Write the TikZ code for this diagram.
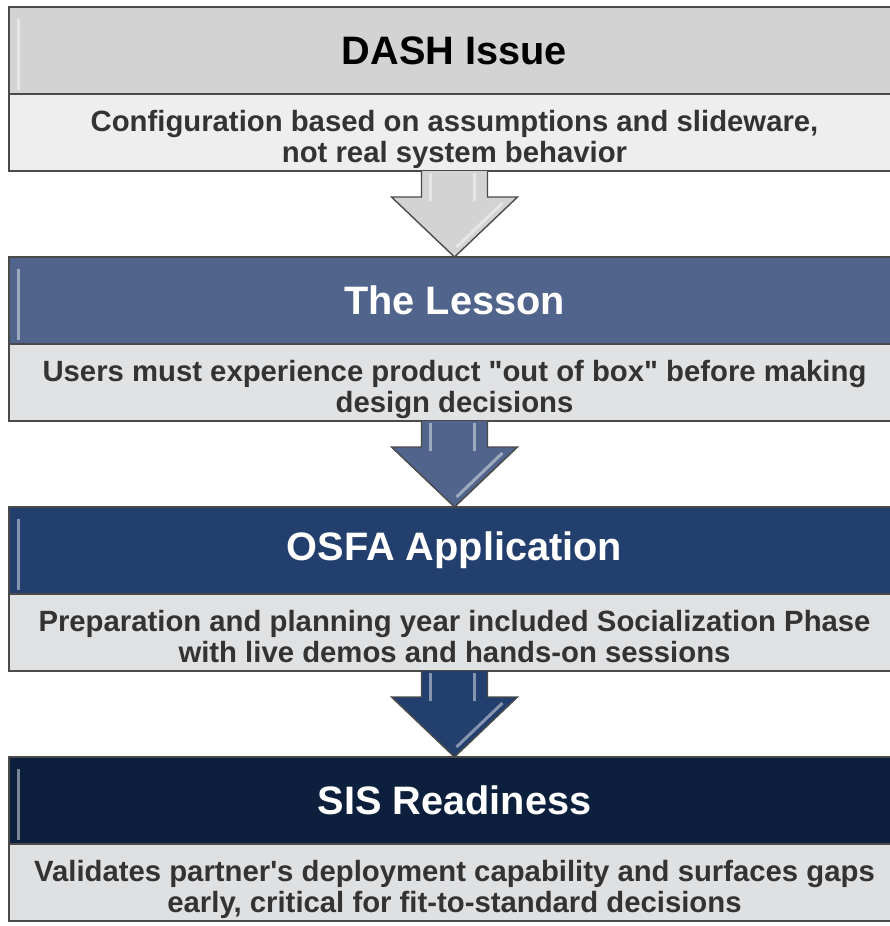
\documentclass[tikz,border=0pt]{standalone}
\usepackage{fontspec}
\setmainfont{Liberation Sans}[Ligatures=TeXOff]
\usetikzlibrary{positioning,calc}

\definecolor{hdrgray}{HTML}{D3D3D3}
\definecolor{hdrblue}{HTML}{51648C}
\definecolor{hdrnavy}{HTML}{233F6E}
\definecolor{hdrdark}{HTML}{0C1F3D}
\definecolor{bodygray}{HTML}{EEEEEE}
\definecolor{bodyblue}{HTML}{E1E2E4}
\definecolor{bodynavy}{HTML}{E0E1E3}
\definecolor{bodydark}{HTML}{DFE0E2}
\definecolor{edge}{HTML}{4A4A4A}
\definecolor{bodytext}{HTML}{333333}

\begin{document}
\begin{tikzpicture}[
  x=1pt, y=-1pt,
  every node/.style={draw=edge,line width=1.6pt,inner sep=0pt,outer sep=0pt,minimum width=891pt},
  hdr/.style={minimum height=87pt,text=white,font=\bfseries\fontsize{39.7}{46}\selectfont},
  body/.style={minimum height=77pt,align=center,text height=65pt,text depth=6pt,text=bodytext,font=\bfseries\fontsize{29.3}{30.5}\selectfont},
  arr/.style={draw=edge,line width=1.4pt,line join=miter},
  gloss/.style={white,opacity=.45,line width=3pt},
  node distance=86pt,
  ]
  \useasboundingbox (0,0) rectangle (890,926);

  \node[hdr, fill=hdrgray, text=black, anchor=north west] (dash) at (9,7) {DASH Issue};
  \node[body, fill=bodygray, below=0pt of dash] (dashtxt) {Configuration based on assumptions and slideware,\\not real system behavior};

  \node[hdr, fill=hdrblue, below=of dashtxt] (lesson) {The Lesson};
  \node[body, fill=bodyblue, below=0pt of lesson] (lessontxt) {Users must experience product "out of box" before making\\design decisions};

  \node[hdr, fill=hdrnavy, below=of lessontxt] (osfa) {OSFA Application};
  \node[body, fill=bodynavy, below=0pt of osfa] (osfatxt) {Preparation and planning year included Socialization Phase\\with live demos and hands-on sessions};

  \node[hdr, fill=hdrdark, below=of osfatxt] (sis) {SIS Readiness};
  \node[body, fill=bodydark, below=0pt of sis] (sistxt) {Validates partner's deployment capability and surfaces gaps\\early, critical for fit-to-standard decisions};

  % bevel highlight on the left of each header
  \foreach \h in {dash,lesson,osfa,sis}
    \draw[gloss] ($(\h.north west)+(9,12)$) -- ($(\h.south west)+(9,-4)$);

  % block arrows between the stages
  \foreach \a/\b/\c in {dashtxt/lesson/hdrgray, lessontxt/osfa/hdrblue, osfatxt/sis/hdrnavy} {
    \draw[arr, fill=\c] ($(\a.south)+(-33,0)$) -- ($(\a.south)+(-33,26)$) -- ($(\a.south)+(-63,26)$)
      -- (\b.north) -- ($(\a.south)+(63,26)$) -- ($(\a.south)+(33,26)$) -- ($(\a.south)+(33,0)$);
    \draw[gloss] ($(\a.south)+(-24,2)$) -- ($(\a.south)+(-24,30)$);
    \draw[gloss] ($(\a.south)+(20,2)$) -- ($(\a.south)+(20,30)$);
    \draw[gloss] ($(\a.south)+(48,32)$) -- ($(\b.north)+(2,-10)$);
  }
\end{tikzpicture}
\end{document}
